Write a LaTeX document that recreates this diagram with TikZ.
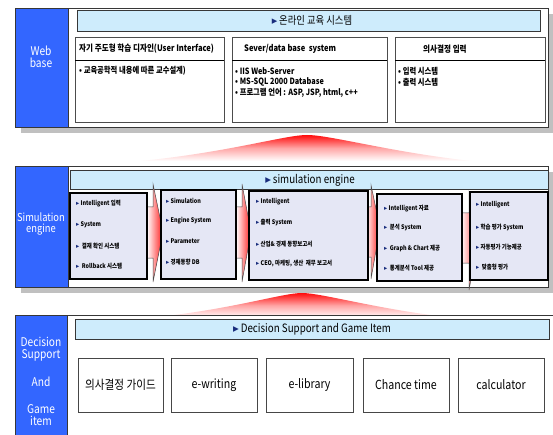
\documentclass[tikz,border=0pt]{standalone}
\usepackage{fontspec}
\setmainfont{Noto Sans CJK KR}[FakeStretch=0.85]
\newfontfamily\symf{DejaVu Sans}
\usetikzlibrary{shadows}
\definecolor{sideblue}{RGB}{51,102,255}
\definecolor{hdrblue}{RGB}{206,236,252}
\definecolor{lav}{RGB}{229,231,245}
\definecolor{navy}{RGB}{25,45,125}
\definecolor{shad}{RGB}{192,192,192}
\definecolor{framec}{RGB}{55,55,55}
\newcommand{\mybul}{{\symf\textcolor{navy}{▸}}}
\newcommand{\rbox}[7]{\node[#2, inner sep=0pt, outer sep=0pt, minimum width={(#5)-(#3)}, minimum height={(#6)-(#4)}] (#1) at ({((#3)+(#5))/2},{((#4)+(#6))/2}) {#7};}
\tikzset{
  panel/.style={fill=white, draw=framec, line width=0.8pt},
  side/.style={fill=sideblue, draw=framec, line width=0.6pt},
  hdr/.style={fill=hdrblue, draw=framec, line width=0.6pt},
  wbox/.style={fill=white, draw=gray!60!black, line width=0.9pt},
  simbox/.style={fill=lav, draw=black, line width=1.8pt, drop shadow={shadow xshift=1.2pt, shadow yshift=-1.2pt, opacity=0.6}},
  dbox/.style={fill=white, draw=gray!55!black, line width=0.9pt, font=\fontsize{12.5}{13}\selectfont},
  sidetxt/.style={text=white, align=center, font=\fontsize{12}{13}\selectfont, inner sep=0pt},
  hdrtxt/.style={font=\fontsize{11}{12}\selectfont, inner sep=0pt},
  wtitle/.style={anchor=west, font=\bfseries\fontsize{8.9}{10}\selectfont, inner sep=0pt},
  wtxt/.style={anchor=west, font=\bfseries\fontsize{8.6}{10}\selectfont, inner sep=0pt},
  stxt/.style={anchor=west, font=\bfseries\fontsize{6.4}{7}\selectfont, inner sep=0pt},
  blockarrow/.style={left color=white, right color=red!90, draw=gray!60!black, line width=0.5pt},
  redfan/.style={top color=red!95, bottom color=white, middle color=red!35}
}
\begin{document}
\begin{tikzpicture}[x=1pt,y=-1pt]
\clip (0,0) rectangle (553,435);
\fill[white] (0,0) rectangle (553,435);

% ---------- Panel 1: Web base ----------
\fill[shad] (21,14) rectangle (553,133);
\rbox{p1}{panel}{15}{8}{548}{127}{}
\rbox{s1}{side}{15}{8}{68}{127}{}
\node[sidetxt] (s1t) at (41,57) {Web\\[-1pt]base};
\rbox{h1}{hdr}{77}{10}{540}{31}{}
\node[hdrtxt] (h1t) at (312,20.5) {\mybul\,온라인 교육 시스템};

\rbox{wa}{wbox}{75}{37}{224}{122}{}
\rbox{wb}{wbox}{232}{37}{387}{122}{}
\rbox{wc}{wbox}{395}{37}{545}{122}{}
\foreach \b in {wa,wb,wc}{\draw[line width=0.7pt] ([yshift=-23pt]\b.north west) -- ([yshift=-23pt]\b.north east);}
\node[wtitle] (wat) at (79,49) {자기 주도형 학습 디자인(User Interface)};
\node[wtitle] (wbt) at (244,49) {Sever/data base\ \ system};
\node[wtitle] (wct) at (423,49) {의사결정 입력};
\node[wtxt] (wa1) at (79,71) {• 교육공학적 내용에 따른 교수설계)};
\node[wtxt] (wb1) at (235,71) {• IIS Web-Server};
\node[wtxt] (wb2) at (235,82) {• MS-SQL 2000 Database};
\node[wtxt] (wb3) at (235,93) {• 프로그램 언어 : ASP, JSP, html, c++};
\node[wtxt] (wc1) at (398,71) {• 입력 시스템};
\node[wtxt] (wc2) at (398,82) {• 출력 시스템};

% red fan 1
\shade[redfan] (141,161) .. controls (230,152) and (285,135) .. (307,135) .. controls (330,135) and (390,152) .. (471,161) -- cycle;

% ---------- Panel 2: Simulation engine ----------
\fill[shad] (21,172) rectangle (553,293);
\rbox{p2}{panel}{15}{166}{548}{287}{}
\rbox{s2}{side}{15}{166}{68}{287}{}
\node[sidetxt, font=\fontsize{11}{12}\selectfont] (s2t) at (41,223.5) {Simulation\\[-1pt]engine};
\rbox{h2}{hdr}{70}{170}{548}{189}{}
\node[hdrtxt, font=\fontsize{11.5}{12}\selectfont] (h2t) at (310,180) {\mybul\,simulation engine};

% block arrows
\draw[blockarrow] (147,207) -- (153,207) -- (153,184) -- (163,232) -- (153,282) -- (153,258) -- (147,258) -- cycle;
\draw[blockarrow] (236,207) -- (242,207) -- (242,184) -- (251,232) -- (242,282) -- (242,258) -- (236,258) -- cycle;
\draw[blockarrow] (366,207) -- (371,207) -- (371,185) -- (380,228) -- (371,279) -- (371,257) -- (366,257) -- cycle;
\draw[blockarrow] (461,213) -- (469,213) -- (469,192) -- (480,230) -- (469,290) -- (469,263) -- (461,263) -- cycle;

\rbox{b1}{simbox}{70}{193}{147}{279}{}
\rbox{b2}{simbox}{161}{190}{236}{279}{}
\rbox{b3}{simbox}{249}{191}{368}{280}{}
\rbox{b4}{simbox}{377}{194}{462}{281}{}
\rbox{b5}{simbox}{470}{192}{548}{280}{}

\node[stxt] (b1a) at (76,204) {\mybul\ Intelligent 입력};
\node[stxt] (b1b) at (76,225) {\mybul\ System};
\node[stxt] (b1c) at (76,246) {\mybul\ \ 결재 확인 시스템};
\node[stxt] (b1d) at (76,266) {\mybul\ \ Rollback 시스템};

\node[stxt] (b2a) at (166,201) {\mybul\ Simulation};
\node[stxt] (b2b) at (166,221) {\mybul\ Engine System};
\node[stxt] (b2c) at (166,241) {\mybul\ Parameter};
\node[stxt] (b2d) at (166,262) {\mybul\ 경제동향 DB};

\node[stxt] (b3a) at (256,202) {\mybul\ Intelligent};
\node[stxt] (b3b) at (256,223) {\mybul\ 출력 System};
\node[stxt] (b3c) at (256,244) {\mybul\ 산업\& 경제 동향보고서};
\node[stxt] (b3d) at (256,264) {\mybul\ CEO, 마케팅, 생산\ \ 재무 보고서};

\node[stxt] (b4a) at (384,209) {\mybul\ Intelligent 자료};
\node[stxt] (b4b) at (384,228) {\mybul\ \ 분석 System};
\node[stxt] (b4c) at (384,248) {\mybul\ \ Graph \& Chart 제공};
\node[stxt] (b4d) at (384,268) {\mybul\ \ 통계분석 Tool 제공};

\node[stxt] (b5a) at (476,205) {\mybul\ Intelligent};
\node[stxt] (b5b) at (476,227) {\mybul\ 학습 평가 System};
\node[stxt] (b5c) at (476,247) {\mybul\ 자동평가 기능제공};
\node[stxt] (b5d) at (476,267) {\mybul\ \ 맞춤형 평가};

% red fan 2
\shade[redfan] (148,318) .. controls (230,310) and (282,293) .. (302,293) .. controls (322,293) and (380,310) .. (455,318) -- cycle;

% ---------- Panel 3: Decision Support ----------
\rbox{p3}{panel}{15}{315}{560}{445}{}
\rbox{s3}{side}{15}{315}{67}{445}{}
\node[sidetxt] (s3a) at (41,349) {Decision\\[-1pt]Support};
\node[sidetxt] (s3b) at (41,382) {And};
\node[sidetxt] (s3c) at (41,415) {Game\\[-1pt]item};
\rbox{h3}{hdr}{75}{319}{549}{339}{}
\node[hdrtxt, font=\fontsize{11.5}{12}\selectfont] (h3t) at (312,329) {\mybul\,Decision Support and Game Item};

\rbox{d1}{dbox}{78}{358}{163}{412}{의사결정 가이드}
\rbox{d2}{dbox}{171}{358}{257}{412}{e-writing}
\rbox{d3}{dbox}{266}{358}{353}{412}{e-library}
\rbox{d4}{dbox}{363}{358}{449}{412}{Chance time}
\rbox{d5}{dbox}{458}{358}{544}{412}{calculator}
\end{tikzpicture}
\end{document}
